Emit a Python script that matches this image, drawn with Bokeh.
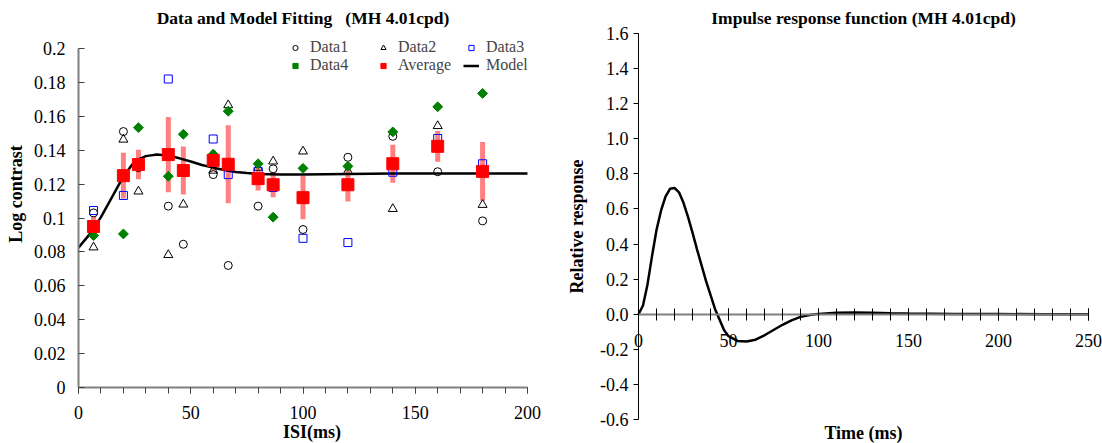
from bokeh.plotting import figure
from bokeh.layouts import row
from bokeh.models import (FixedTicker, Legend, LegendItem, Range1d, Label,
                          CustomJSTickFormatter, ColumnDataSource)
from bokeh.embed import file_html
from bokeh.resources import INLINE

nan = float("nan")

# ---------------- Left chart data ----------------
isi = [6.7, 20, 26.7, 40, 46.7, 60, 66.7, 80, 86.7, 100, 120, 140, 160, 180]
data1 = [0.103, 0.151, 0.1297, 0.107, 0.0845, 0.1256, 0.072, 0.107, 0.129, 0.0932, 0.1358, 0.1482, 0.1273, 0.0983]
data2 = [0.0827, 0.1463, 0.1157, 0.0782, 0.108, 0.128, 0.1666, 0.1297, 0.1334, 0.1393, 0.1277, 0.1054, 0.1543, 0.1078]
data3 = [0.1044, 0.1133, nan, 0.182, nan, 0.1466, 0.1256, 0.1275, 0.118, 0.088, 0.0855, 0.127, 0.1469, 0.132]
data4 = [0.0896, 0.0906, 0.1533, 0.1246, 0.1494, 0.1376, 0.163, 0.132, 0.1005, 0.1293, 0.1305, 0.1508, 0.1656, 0.1735]
average = [0.095, 0.125, 0.1315, 0.1374, 0.128, 0.134, 0.1317, 0.1232, 0.1196, 0.112, 0.1196, 0.132, 0.1423, 0.1275]
avg_err = [0.006, 0.0135, 0.0087, 0.0222, 0.0142, 0.006, 0.023, 0.007, 0.0074, 0.0128, 0.0098, 0.0112, 0.0091, 0.0173]

model_x = [0, 5, 10, 15, 20, 25, 30, 35, 40, 45, 50, 55, 60, 65, 70, 75, 80, 90, 100, 120, 140, 160, 180, 200]
model_y = [0.0825, 0.0905, 0.1005, 0.1125, 0.1245, 0.1335, 0.1365, 0.1374, 0.1368, 0.1352, 0.1333, 0.1313,
           0.1297, 0.1283, 0.1272, 0.1265, 0.1260, 0.1257, 0.1257, 0.1260, 0.1262, 0.1262, 0.1262, 0.1262]

left_yticks = [0, 0.02, 0.04, 0.06, 0.08, 0.1, 0.12, 0.14, 0.16, 0.18, 0.2]
left_xticks = [0, 50, 100, 150, 200]
left_xminor = list(range(0, 201, 10))

# ---------------- Right chart data ----------------
t_ms = [0, 2.5, 5, 7.5, 10, 12.5, 15, 17.5, 20, 22.5, 25, 27.5, 30, 32.5, 35, 37.5, 40, 42.5, 45, 47.5,
        50, 55, 60, 65, 70, 75, 80, 85, 90, 95, 100, 110, 120, 130, 140, 150, 175, 200, 225, 250]
response = [0, 0.05, 0.17, 0.33, 0.48, 0.59, 0.67, 0.715, 0.72, 0.695, 0.635, 0.555, 0.465, 0.37, 0.28,
            0.19, 0.11, 0.03, -0.03, -0.09, -0.125, -0.152, -0.155, -0.145, -0.12, -0.09, -0.06, -0.035,
            -0.015, -0.005, 0.002, 0.008, 0.01, 0.009, 0.006, 0.004, 0.002, 0.001, 0, 0]

right_yticks = [-0.6, -0.4, -0.2, 0, 0.2, 0.4, 0.6, 0.8, 1.0, 1.2, 1.4, 1.6]
right_xticks = [0, 50, 100, 150, 200, 250]
right_xminor = list(range(0, 251, 10))

SERIF = "Liberation Serif"
TICK_FS = "18px"
AXLAB_FS = "18px"
TITLE_FS = "17.5px"

# ================= Left figure =================
# Frames of both figures start at the top of the page (a row aligns frame tops);
# the axes are bounded to their data span and the titles are drawn as labels.
L_PX_X = 449 / 200.0
L_PX_Y = 339 / 0.2
p1 = figure(frame_width=467, frame_height=387, min_border_left=78, min_border_right=15,
            min_border_top=0, min_border_bottom=56,
            x_range=Range1d(0, 200 + 18 / L_PX_X), y_range=Range1d(0, 0.2 + 48 / L_PX_Y),
            output_backend="svg", toolbar_location=None)
p1.outline_line_color = None
p1.grid.visible = False
p1.background_fill_color = "white"

src = ColumnDataSource(dict(x=isi, d1=data1, d2=data2, d3=data3, d4=data4, avg=average,
                            lo=[a - e for a, e in zip(average, avg_err)],
                            hi=[a + e for a, e in zip(average, avg_err)]))

p1.segment(x0="x", y0="lo", x1="x", y1="hi", source=src, line_color="#ff8080", line_width=5)
r_model = p1.line(model_x, model_y, line_color="black", line_width=2.5)
r1 = p1.scatter("x", "d1", source=src, marker="circle", size=8, fill_color=None, line_color="black", line_width=1)
r2 = p1.scatter("x", "d2", source=src, marker="triangle", size=9, fill_color=None, line_color="black", line_width=1)
r3 = p1.scatter("x", "d3", source=src, marker="square", size=8, fill_color=None, line_color="#0000ff", line_width=1)
r4 = p1.scatter("x", "d4", source=src, marker="square", angle=0.785398, size=7,
                fill_color="#008000", line_color="#008000")
r5 = p1.scatter("x", "avg", source=src, marker="square", size=12, fill_color="#ff0000", line_color="#ff0000")

fmt2 = CustomJSTickFormatter(code="var s = tick.toFixed(2); s = s.replace(/0+$/, ''); s = s.replace(/\\.$/, ''); return s;")

xa = p1.xaxis[0]
xa.ticker = FixedTicker(ticks=left_xticks, minor_ticks=left_xminor)
xa.bounds = (0, 200)
xa.axis_label = "ISI(ms)"
xa.axis_line_color = "#808080"
xa.axis_line_width = 2
xa.major_tick_line_color = "#404040"
xa.minor_tick_line_color = "#404040"
xa.major_tick_in = 0
xa.major_tick_out = 6
xa.minor_tick_in = 0
xa.minor_tick_out = 6
xa.major_label_standoff = 12
xa.axis_label_standoff = 0

ya = p1.yaxis[0]
ya.ticker = FixedTicker(ticks=left_yticks)
ya.bounds = (0, 0.2)
ya.formatter = fmt2
ya.axis_label = "Log contrast"
ya.axis_line_color = "#808080"
ya.axis_line_width = 2
ya.major_tick_line_color = "#404040"
ya.minor_tick_line_color = None
ya.major_tick_in = 6
ya.major_tick_out = 0
ya.major_label_standoff = 13
ya.axis_label_standoff = 5

for ax in (xa, ya):
    ax.major_label_text_font = SERIF
    ax.major_label_text_font_size = TICK_FS
    ax.major_label_text_color = "black"
    ax.axis_label_text_font = SERIF
    ax.axis_label_text_font_size = AXLAB_FS
    ax.axis_label_text_font_style = "bold"
    ax.axis_label_text_color = "black"

p1.add_layout(Label(x=(left_xticks[0] + left_xticks[-1]) / 2.0, y=0.2 + 31 / L_PX_Y,
                    text="Data and Model Fitting \u00a0 (MH 4.01cpd)",
                    text_align="center", text_baseline="middle", text_font=SERIF,
                    text_font_size=TITLE_FS, text_font_style="bold", text_color="black"))

legend = Legend(items=[
    LegendItem(label="Data1", renderers=[r1]),
    LegendItem(label="Data2", renderers=[r2]),
    LegendItem(label="Data3", renderers=[r3]),
    LegendItem(label="Data4", renderers=[r4]),
    LegendItem(label="Average", renderers=[r5]),
    LegendItem(label="Model", renderers=[r_model]),
], orientation="horizontal", ncols=3, location=(209, 313))
legend.border_line_color = None
legend.background_fill_alpha = 0
legend.label_text_font = SERIF
legend.label_text_font_size = "16px"
legend.label_height = 13
legend.glyph_height = 13
legend.glyph_width = 16
legend.label_width = 65
legend.spacing = 0
legend.padding = 0
legend.margin = 0
legend.label_standoff = 7
p1.add_layout(legend, "center")

# ================= Right figure =================
R_PX_X = 450 / 250.0
R_PX_Y = 386 / 2.2
p2 = figure(frame_width=542, frame_height=443, min_border_left=0, min_border_right=0,
            min_border_top=0, min_border_bottom=0,
            x_range=Range1d(-78 / R_PX_X, 250 + 14 / R_PX_X),
            y_range=Range1d(-0.6 - 24 / R_PX_Y, 1.6 + 33 / R_PX_Y),
            output_backend="svg", toolbar_location=None)
p2.outline_line_color = None
p2.grid.visible = False

p2.line(t_ms, response, line_color="black", line_width=2.5)

fmt1 = CustomJSTickFormatter(code="var v = Math.abs(tick) < 1e-9 ? 0 : tick; return v.toFixed(1);")

xb = p2.xaxis[0]
xb.fixed_location = 0
xb.bounds = (0, 250)
xb.ticker = FixedTicker(ticks=right_xticks, minor_ticks=right_xminor)
xb.axis_line_color = "#808080"
xb.axis_line_width = 2
xb.major_tick_line_color = "black"
xb.minor_tick_line_color = "black"
xb.major_tick_in = 6
xb.major_tick_out = 6
xb.minor_tick_in = 6
xb.minor_tick_out = 6
xb.major_label_standoff = 14

yb = p2.yaxis[0]
yb.fixed_location = 0
yb.bounds = (-0.6, 1.6)
yb.ticker = FixedTicker(ticks=right_yticks)
yb.formatter = fmt1
yb.axis_label = "Relative response"
yb.axis_line_color = "black"
yb.major_tick_line_color = "black"
yb.minor_tick_line_color = None
yb.major_tick_in = 0
yb.major_tick_out = 5
yb.major_label_standoff = 5
yb.axis_label_standoff = 10

for ax in (xb, yb):
    ax.major_label_text_font = SERIF
    ax.major_label_text_font_size = TICK_FS
    ax.major_label_text_color = "black"
    ax.axis_label_text_font = SERIF
    ax.axis_label_text_font_size = AXLAB_FS
    ax.axis_label_text_font_style = "bold"
    ax.axis_label_text_color = "black"

x_mid = (right_xticks[0] + right_xticks[-1]) / 2.0
p2.add_layout(Label(x=x_mid, y=1.6 + 16 / R_PX_Y, text="Impulse response function (MH 4.01cpd)",
                    text_align="center", text_baseline="middle", text_font=SERIF,
                    text_font_size=TITLE_FS, text_font_style="bold", text_color="black"))
p2.add_layout(Label(x=x_mid, y=-0.6 - 13 / R_PX_Y, text="Time (ms)",
                    text_align="center", text_baseline="middle", text_font=SERIF,
                    text_font_size=AXLAB_FS, text_font_style="bold", text_color="black"))

layout = row(p1, p2)
open("out.html", "w").write(file_html(layout, INLINE))
